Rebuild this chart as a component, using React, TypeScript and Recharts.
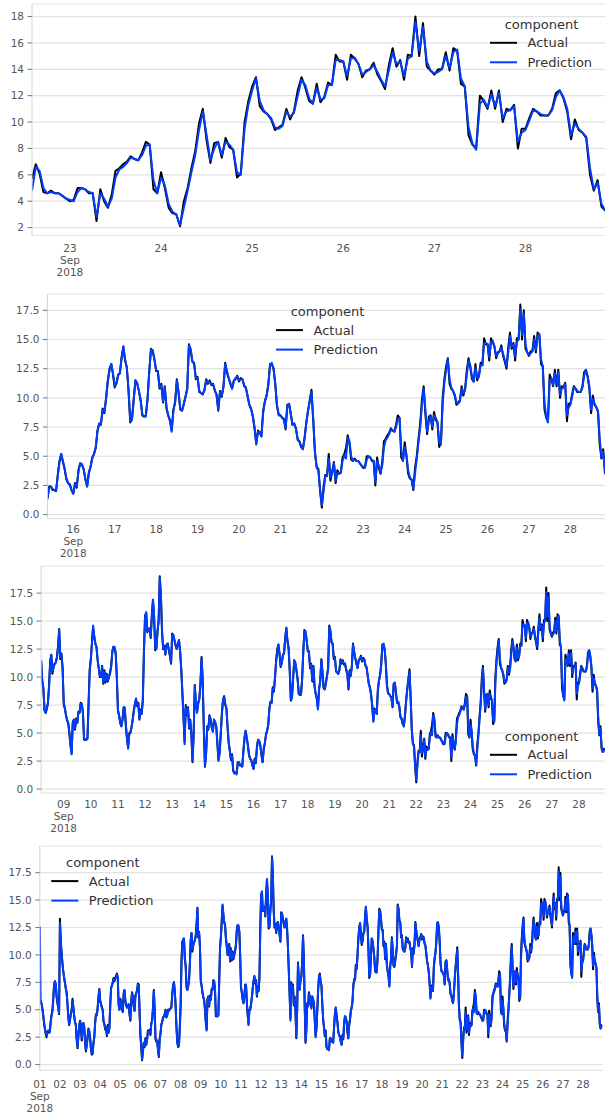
import React from "react";
import { LineChart, Line, XAxis, YAxis, CartesianGrid } from "recharts";

// hourly readings, one row per day (Sep 1 00:00 ... Sep 28 23:00)
const ACTUAL_BY_DAY: number[][] = [
  [5.9, 5.8, 5.6, 5.1, 4.5, 3.8, 3.3, 2.8, 2.5, 3.0, 3.1, 2.9, 3.0, 4.0, 4.5, 4.9, 6.0, 7.3, 7.6, 7.3, 6.2, 5.6, 5.2, 4.6],
  [13.3, 11.2, 10.2, 9.2, 8.5, 7.9, 7.5, 6.9, 6.6, 5.5, 4.3, 3.6, 4.1, 4.6, 5.0, 6.0, 5.2, 4.4, 3.9, 3.6, 2.2, 1.5, 2.6, 3.6],
  [4.0, 3.6, 2.2, 3.3, 3.8, 3.4, 2.0, 1.2, 1.8, 2.5, 3.3, 3.0, 2.4, 1.4, 0.9, 1.0, 2.0, 2.5, 3.9, 4.6, 4.5, 5.2, 6.2, 6.9],
  [5.8, 5.5, 5.2, 5.0, 3.9, 3.7, 3.2, 3.4, 2.6, 3.6, 2.9, 3.3, 5.5, 7.0, 7.2, 7.5, 7.9, 7.6, 7.9, 8.1, 8.3, 7.9, 5.4, 5.0],
  [6.0, 5.8, 5.1, 4.8, 6.5, 6.8, 5.8, 5.4, 5.2, 5.4, 5.5, 4.6, 4.0, 5.7, 6.6, 6.2, 5.3, 4.9, 6.3, 6.5, 6.8, 7.4, 7.3, 4.8],
  [2.6, 1.6, 0.4, 1.2, 2.0, 1.6, 2.4, 1.8, 2.3, 3.1, 2.9, 3.2, 2.7, 3.8, 4.0, 5.2, 6.8, 5.0, 2.3, 2.1, 2.2, 1.3, 0.7, 2.4],
  [2.8, 3.7, 3.9, 4.3, 4.4, 4.6, 5.0, 4.3, 4.5, 5.0, 4.9, 5.1, 5.1, 5.3, 6.5, 7.2, 7.5, 6.7, 5.3, 3.4, 2.0, 1.6, 1.8, 3.5],
  [5.5, 9.5, 11.2, 11.4, 11.5, 9.6, 9.0, 7.0, 6.8, 7.2, 7.7, 9.2, 11.4, 12.0, 10.3, 10.9, 11.2, 11.3, 11.8, 12.8, 14.3, 11.6, 12.1, 10.8],
  [7.6, 7.2, 6.6, 6.1, 5.9, 5.0, 3.9, 3.2, 6.0, 6.2, 5.3, 6.3, 5.9, 6.9, 6.8, 7.7, 7.6, 6.8, 4.4, 4.4, 4.4, 4.5, 7.7, 10.7],
  [11.6, 13.1, 14.5, 13.6, 13.0, 12.7, 11.5, 10.8, 10.0, 10.0, 11.0, 9.4, 10.6, 9.5, 10.3, 9.6, 10.0, 10.4, 11.0, 12.3, 12.7, 12.6, 12.1, 9.9],
  [7.0, 6.6, 5.9, 5.6, 6.2, 7.3, 7.2, 5.6, 4.5, 3.7, 5.0, 5.0, 5.5, 6.2, 7.0, 7.6, 8.0, 7.4, 7.7, 6.2, 7.1, 6.7, 8.0, 12.4],
  [15.5, 15.7, 14.0, 14.3, 14.3, 13.5, 15.6, 16.9, 15.3, 12.4, 12.6, 14.1, 15.0, 19.0, 17.3, 14.0, 12.5, 12.8, 12.0, 12.9, 13.0, 12.4, 11.9, 11.2],
  [13.9, 13.7, 13.3, 12.8, 12.5, 13.0, 13.3, 12.3, 10.7, 8.6, 6.4, 4.2, 7.5, 6.6, 7.3, 5.4, 6.2, 4.8, 2.4, 5.0, 9.3, 7.6, 6.9, 7.7],
  [8.0, 9.4, 11.8, 9.6, 5.3, 2.0, 3.2, 5.6, 5.3, 6.6, 6.2, 5.5, 5.2, 6.2, 5.9, 5.6, 4.0, 2.6, 3.3, 5.0, 6.8, 8.0, 8.3, 7.5],
  [7.2, 5.5, 4.1, 3.4, 2.6, 3.1, 1.6, 1.4, 1.5, 1.4, 2.4, 2.4, 2.1, 2.1, 2.0, 3.4, 4.6, 5.2, 4.5, 3.9, 3.0, 2.7, 2.6, 2.1],
  [1.8, 2.7, 2.3, 3.8, 4.4, 4.3, 3.9, 3.0, 2.4, 3.6, 4.1, 4.9, 5.2, 5.7, 7.2, 7.8, 7.7, 9.1, 8.7, 10.0, 11.5, 12.5, 12.9, 12.0],
  [10.9, 11.3, 12.0, 12.1, 13.5, 14.4, 13.2, 12.6, 10.6, 7.9, 8.2, 9.9, 11.5, 11.2, 10.6, 9.8, 8.5, 8.4, 8.5, 9.9, 12.3, 14.2, 14.0, 13.3],
  [12.3, 12.3, 10.8, 11.2, 9.6, 11.0, 9.1, 8.5, 8.1, 7.2, 9.0, 9.6, 11.6, 10.4, 9.0, 8.9, 9.5, 10.1, 10.8, 14.6, 14.1, 13.1, 13.0, 11.6],
  [11.8, 10.5, 10.4, 10.3, 10.7, 11.6, 11.2, 11.5, 11.1, 11.2, 10.6, 10.3, 8.9, 10.6, 10.1, 11.0, 13.0, 12.2, 11.7, 11.2, 10.8, 11.5, 11.6, 11.9],
  [11.4, 11.7, 11.6, 11.0, 10.9, 10.1, 9.4, 9.1, 8.4, 7.4, 6.1, 7.2, 7.0, 6.7, 8.9, 9.7, 10.2, 11.2, 12.9, 12.9, 12.5, 11.2, 9.3, 8.6],
  [8.5, 8.3, 8.2, 7.3, 9.4, 9.5, 8.6, 7.7, 7.8, 7.4, 6.4, 6.3, 5.8, 5.6, 6.6, 7.9, 8.9, 9.8, 10.7, 8.1, 5.3, 4.1, 3.9, 2.0],
  [0.6, 2.4, 3.4, 3.3, 5.2, 2.9, 3.7, 4.5, 2.7, 3.8, 3.5, 3.6, 4.9, 5.2, 5.7, 6.8, 6.1, 4.7, 4.6, 4.8, 4.6, 4.6, 4.4, 4.2],
  [4.0, 4.1, 5.0, 5.0, 4.9, 4.6, 4.6, 2.5, 4.9, 4.0, 3.5, 4.5, 6.3, 6.5, 6.8, 7.0, 7.4, 7.2, 7.1, 7.7, 8.5, 8.3, 4.9, 4.6],
  [6.2, 5.0, 3.5, 3.1, 3.0, 2.1, 4.0, 5.0, 6.5, 7.8, 9.9, 11.0, 8.6, 6.9, 8.4, 8.5, 7.3, 8.8, 8.1, 7.9, 5.8, 6.1, 10.0, 11.6],
  [12.7, 13.4, 11.2, 10.8, 10.6, 10.2, 9.4, 9.6, 9.8, 11.0, 10.2, 10.8, 12.4, 13.4, 12.6, 11.6, 11.4, 12.9, 11.5, 11.9, 13.0, 12.8, 15.1, 14.6],
  [14.6, 13.2, 15.1, 14.8, 14.4, 13.4, 13.9, 14.0, 14.5, 13.6, 13.1, 12.5, 14.3, 15.6, 14.2, 14.7, 13.2, 15.1, 15.0, 18.0, 15.0, 17.5, 14.2, 13.9],
  [13.6, 14.0, 14.0, 15.3, 13.9, 15.6, 15.4, 12.9, 12.7, 9.0, 8.3, 8.0, 12.0, 11.6, 11.0, 12.4, 11.0, 12.4, 10.0, 11.0, 10.9, 11.3, 8.0, 9.5],
  [9.5, 10.3, 11.0, 10.8, 10.5, 10.5, 10.5, 11.0, 12.2, 12.4, 11.8, 10.8, 8.7, 10.2, 9.4, 9.2, 8.8, 6.0, 4.8, 5.6, 3.6, 3.3, 3.6, 3.4],
];

const PREDICTION_BY_DAY: number[][] = [
  [12.6, 5.9, 5.5, 5.2, 4.6, 3.9, 3.3, 2.9, 2.6, 2.9, 3.1, 3.0, 3.0, 3.8, 4.5, 4.8, 5.8, 7.1, 7.6, 7.4, 6.3, 5.7, 5.2, 4.7],
  [12.9, 11.4, 10.1, 9.3, 8.5, 8.0, 7.4, 7.0, 6.5, 5.6, 4.4, 3.7, 4.0, 4.6, 4.9, 5.8, 5.3, 4.5, 3.9, 3.6, 2.4, 1.6, 2.5, 3.5],
  [3.9, 3.7, 2.4, 3.2, 3.8, 3.5, 2.1, 1.3, 1.7, 2.5, 3.2, 3.1, 2.5, 1.5, 1.0, 1.0, 1.9, 2.5, 3.7, 4.6, 4.5, 5.1, 6.1, 6.8],
  [5.9, 5.5, 5.3, 5.0, 4.0, 3.7, 3.3, 3.3, 2.7, 3.5, 3.0, 3.3, 5.2, 6.9, 7.2, 7.4, 7.8, 7.7, 7.8, 8.0, 8.2, 8.0, 5.6, 5.0],
  [5.9, 5.8, 5.2, 4.8, 6.3, 6.8, 5.9, 5.4, 5.2, 5.3, 5.5, 4.7, 4.1, 5.5, 6.5, 6.3, 5.4, 4.9, 6.1, 6.5, 6.7, 7.3, 7.3, 5.0],
  [2.8, 1.7, 0.5, 1.1, 2.0, 1.7, 2.3, 1.9, 2.3, 3.0, 2.9, 3.1, 2.8, 3.7, 4.0, 5.1, 6.7, 5.2, 2.5, 2.1, 2.2, 1.4, 0.8, 2.2],
  [2.9, 3.6, 3.9, 4.2, 4.4, 4.6, 4.9, 4.4, 4.5, 4.9, 4.9, 5.1, 5.1, 5.2, 6.3, 7.2, 7.5, 6.8, 5.5, 3.5, 2.1, 1.6, 1.7, 3.2],
  [5.2, 9.2, 11.1, 11.4, 11.5, 9.8, 9.0, 7.2, 6.8, 7.1, 7.6, 9.0, 11.2, 12.0, 10.5, 10.8, 11.2, 11.3, 11.7, 12.6, 14.2, 11.8, 12.0, 10.9],
  [7.8, 7.2, 6.6, 6.2, 5.9, 5.1, 3.9, 3.1, 5.8, 6.2, 5.4, 6.2, 5.9, 6.8, 6.8, 7.6, 7.6, 6.9, 4.6, 4.4, 4.4, 4.5, 7.4, 10.5],
  [11.6, 13.0, 14.6, 13.7, 13.0, 12.7, 11.6, 10.8, 10.1, 10.0, 10.9, 9.5, 10.5, 9.6, 10.2, 9.7, 10.0, 10.3, 10.9, 12.2, 12.7, 12.7, 12.2, 10.1],
  [7.1, 6.5, 6.0, 5.6, 6.1, 7.2, 7.3, 5.8, 4.5, 3.6, 4.9, 5.1, 5.5, 6.1, 6.9, 7.6, 8.1, 7.5, 7.6, 6.3, 7.0, 6.8, 7.8, 12.1],
  [15.4, 15.8, 14.1, 14.2, 14.4, 13.6, 15.4, 16.9, 15.5, 12.6, 12.5, 14.0, 15.0, 18.9, 17.4, 14.2, 12.6, 12.7, 12.1, 12.8, 13.0, 12.5, 11.9, 11.3],
  [13.8, 13.8, 13.3, 12.9, 12.5, 12.9, 13.3, 12.4, 10.8, 8.7, 6.5, 4.0, 7.4, 6.7, 7.2, 5.5, 6.1, 4.9, 2.5, 4.9, 9.2, 7.7, 6.8, 7.6],
  [8.1, 9.3, 11.7, 9.8, 5.5, 2.1, 3.1, 5.5, 5.4, 6.5, 6.3, 5.5, 5.1, 6.2, 6.0, 5.6, 4.1, 2.5, 3.2, 4.9, 6.7, 8.0, 8.2, 7.6],
  [7.2, 5.6, 4.2, 3.4, 2.7, 3.0, 1.7, 1.4, 1.5, 1.3, 2.3, 2.4, 2.2, 2.1, 2.0, 3.3, 4.5, 5.2, 4.6, 3.9, 3.1, 2.7, 2.5, 2.1],
  [1.8, 2.6, 2.4, 3.7, 4.4, 4.3, 3.9, 3.1, 2.4, 3.5, 4.1, 4.8, 5.2, 5.8, 7.1, 7.8, 7.7, 9.0, 8.8, 9.9, 11.4, 12.4, 12.9, 12.1],
  [11.0, 11.2, 11.9, 12.2, 13.4, 14.4, 13.3, 12.6, 10.7, 8.0, 8.1, 9.8, 11.5, 11.3, 10.6, 9.8, 8.6, 8.4, 8.4, 9.8, 12.2, 14.1, 14.1, 13.3],
  [12.4, 12.2, 10.9, 11.1, 9.7, 10.9, 9.2, 8.5, 8.0, 7.1, 8.9, 9.7, 11.5, 10.5, 9.1, 8.9, 9.4, 10.1, 10.7, 14.5, 14.2, 13.1, 12.9, 11.7],
  [11.7, 10.6, 10.4, 10.3, 10.6, 11.5, 11.3, 11.4, 11.2, 11.1, 10.7, 10.2, 9.0, 10.5, 10.2, 10.9, 12.9, 12.3, 11.7, 11.3, 10.8, 11.4, 11.7, 11.8],
  [11.5, 11.6, 11.6, 11.1, 10.8, 10.2, 9.4, 9.0, 8.5, 7.5, 6.0, 7.1, 7.1, 6.7, 8.7, 9.7, 10.2, 11.1, 12.8, 13.0, 12.5, 11.3, 9.4, 8.5],
  [8.5, 8.3, 8.1, 7.4, 9.3, 9.5, 8.7, 7.7, 7.8, 7.3, 6.5, 6.2, 5.8, 5.6, 6.5, 7.8, 8.9, 9.7, 10.5, 8.3, 5.4, 4.0, 3.8, 2.1],
  [0.8, 2.0, 3.3, 3.3, 4.8, 3.2, 3.5, 4.4, 2.9, 3.6, 3.5, 3.6, 4.6, 5.1, 4.8, 6.6, 6.3, 5.0, 4.6, 4.7, 4.6, 4.6, 4.4, 4.2],
  [4.1, 4.0, 4.7, 5.0, 4.9, 4.7, 4.6, 2.8, 4.6, 4.2, 3.6, 4.2, 5.8, 6.4, 6.6, 6.9, 7.3, 7.2, 7.1, 7.5, 8.2, 8.3, 5.6, 4.6],
  [5.8, 5.2, 3.8, 3.2, 3.0, 2.2, 3.5, 4.8, 6.2, 7.5, 9.4, 10.8, 9.0, 7.1, 8.0, 8.5, 7.5, 8.5, 8.3, 7.9, 6.2, 6.0, 9.5, 11.3],
  [12.4, 13.3, 11.6, 10.9, 10.6, 10.3, 9.6, 9.5, 9.7, 10.8, 10.4, 10.7, 12.0, 13.2, 12.8, 11.8, 11.4, 12.6, 11.7, 11.8, 12.8, 12.8, 14.7, 14.7],
  [14.6, 13.5, 14.8, 14.9, 14.4, 13.6, 13.8, 14.0, 14.3, 13.8, 13.2, 12.7, 13.9, 15.3, 14.4, 14.6, 13.5, 14.8, 15.0, 17.6, 15.4, 17.2, 14.6, 13.9],
  [13.7, 13.8, 14.0, 15.0, 14.1, 15.3, 15.5, 13.3, 12.7, 9.6, 8.4, 7.9, 11.4, 11.7, 11.1, 12.1, 11.2, 12.2, 10.3, 10.8, 10.9, 11.2, 8.5, 9.2],
  [9.4, 10.1, 10.9, 10.8, 10.6, 10.5, 10.5, 10.9, 11.9, 12.4, 11.9, 11.0, 9.0, 9.9, 9.5, 9.2, 8.9, 6.5, 4.9, 5.4, 3.8, 3.3, 3.5, 3.4],
];

const SERIES_NAMES = ["Actual", "Prediction"];
const LEGEND_TITLE = "component";
const MONTH_LABEL = "Sep";
const YEAR_LABEL = "2018";
const Y_TICKS_WHOLE = [2, 4, 6, 8, 10, 12, 14, 16, 18];
const Y_TICKS_HALF = [0, 2.5, 5, 7.5, 10, 12.5, 15, 17.5];

const LAST_HOUR = ACTUAL_BY_DAY.length * 24 - 1;
const FONT = "'DejaVu Sans', Verdana, sans-serif";
const ACTUAL_COLOR = "#000000";
const PRED_COLOR = "#003DFD";
const TICK_COLOR = "#555555";
const GRID_COLOR = "#e2e2e2";

// one row per hour, built from the daily tables
const rows: { h: number; actual: number; prediction: number }[] = [];
ACTUAL_BY_DAY.forEach((day, d) => {
  day.forEach((v, i) => {
    rows.push({ h: d * 24 + i, actual: v, prediction: PREDICTION_BY_DAY[d][i] });
  });
});

const fmtWhole = (v: number) => String(v);
const fmtHalf = (v: number) => v.toFixed(1);

interface PanelCfg {
  start: number;
  top: number;
  bottom: number;
  left: number;
  right: number;
  domain: [number, number];
  ticks: number[];
  fmt: (v: number) => string;
  labelY: number;
  legend: { x: number; y: number };
}

const PANELS: PanelCfg[] = [
  { start: 518, top: 4.1, bottom: 235.6, left: 32, right: 612.8, domain: [1.4, 18.95], ticks: Y_TICKS_WHOLE, fmt: fmtWhole, labelY: 248.3, legend: { x: 490, y: 24 } },
  { start: 345, top: 294.4, bottom: 519.1, left: 47.4, right: 610.1, domain: [-0.35, 18.9], ticks: Y_TICKS_HALF, fmt: fmtHalf, labelY: 529.3, legend: { x: 276, y: 311.3 } },
  { start: 172, top: 566.2, bottom: 793.4, left: 41.1, right: 605, domain: [-0.37, 19.92], ticks: Y_TICKS_HALF, fmt: fmtHalf, labelY: 804.3, legend: { x: 490, y: 736 } },
  { start: 0, top: 845.7, bottom: 1070.1, left: 39.8, right: 602.3, domain: [-0.53, 19.93], ticks: Y_TICKS_HALF, fmt: fmtHalf, labelY: 1083.3, legend: { x: 51.3, y: 862.3 } },
];

function DayTick(props: any) {
  const { x, y, payload, first, off } = props;
  const day = String(Math.round(payload.value / 24) + 1).padStart(2, "0");
  const isFirst = payload.value === first;
  return (
    <text x={x} y={y + off} textAnchor="middle" dominantBaseline="central" fontSize={10.5} fill={TICK_COLOR} fontFamily={FONT}>
      <tspan x={x}>{day}</tspan>
      {isFirst && <tspan x={x} dy={12.2}>{MONTH_LABEL}</tspan>}
      {isFirst && <tspan x={x} dy={12}>{YEAR_LABEL}</tspan>}
    </text>
  );
}

function Panel({ cfg }: { cfg: PanelCfg }) {
  const W = 625;
  const chartTop = cfg.top - 4;
  const H = cfg.bottom - chartTop + 50;
  const data = rows.filter((r) => r.h >= cfg.start);
  const dayTicks: number[] = [];
  for (let h = Math.ceil(cfg.start / 24) * 24; h <= LAST_HOUR; h += 24) dayTicks.push(h);

  return (
    <div style={{ position: "absolute", left: 0, top: chartTop }}>
      <LineChart width={W} height={H} data={data} margin={{ top: 4, right: W - cfg.right, bottom: 0, left: 0 }}>
        <CartesianGrid vertical={false} stroke={GRID_COLOR} strokeWidth={1.2} />
        <XAxis
          dataKey="h"
          type="number"
          domain={[cfg.start, LAST_HOUR]}
          ticks={dayTicks}
          interval={0}
          height={50}
          axisLine={false}
          tickLine={false}
          tickSize={0}
          tickMargin={0}
          allowDataOverflow
          tick={<DayTick first={dayTicks[0]} off={cfg.labelY - cfg.bottom} />}
        />
        <YAxis
          type="number"
          domain={cfg.domain}
          ticks={cfg.ticks}
          tickFormatter={cfg.fmt}
          interval={0}
          width={cfg.left}
          allowDataOverflow
          axisLine={{ stroke: "#d2d2d2" }}
          tickLine={{ stroke: "#777777" }}
          tickSize={4.5}
          tickMargin={3.5}
          tick={{ fontSize: 10.5, fill: TICK_COLOR, fontFamily: FONT }}
        />
        <Line type="linear" dataKey="actual" stroke={ACTUAL_COLOR} strokeWidth={2} strokeLinejoin="round" dot={false} activeDot={false} isAnimationActive={false} />
        <Line type="linear" dataKey="prediction" stroke={PRED_COLOR} strokeWidth={2} strokeLinejoin="round" dot={false} activeDot={false} isAnimationActive={false} />
      </LineChart>
    </div>
  );
}

function LegendBox({ x, y }: { x: number; y: number }) {
  const colors = [ACTUAL_COLOR, PRED_COLOR];
  return (
    <g fontFamily={FONT} fontSize={13} fill="#333333">
      <text x={x + 51.5} y={y} textAnchor="middle" dominantBaseline="central">{LEGEND_TITLE}</text>
      {SERIES_NAMES.map((name, i) => {
        const ry = y + 18.8 + i * 19.5;
        return (
          <g key={name}>
            <line x1={x} x2={x + 27} y1={ry} y2={ry} stroke={colors[i]} strokeWidth={2} />
            <text x={x + 37.5} y={ry} dominantBaseline="central">{name}</text>
          </g>
        );
      })}
    </g>
  );
}

export default function App() {
  return (
    <div style={{ position: "fixed", left: 0, top: 0, width: 605, height: 1115, overflow: "hidden", background: "#fff" }}>
      {PANELS.map((p, i) => (
        <Panel key={i} cfg={p} />
      ))}
      <svg width={605} height={1115} style={{ position: "absolute", left: 0, top: 0, pointerEvents: "none" }}>
        {PANELS.map((p, i) => (
          <LegendBox key={i} x={p.legend.x} y={p.legend.y} />
        ))}
      </svg>
    </div>
  );
}
